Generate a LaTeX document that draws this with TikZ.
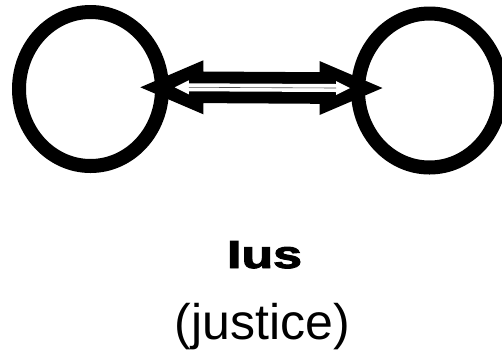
\documentclass[tikz,border=0pt]{standalone}
\usepackage{fontspec}
\setmainfont{Liberation Sans}
\newfontfamily\heavyfont{Liberation Sans Bold}[FakeBold=2.5]
\usetikzlibrary{shapes.geometric,calc}
\tikzset{
  ring/.style={ellipse, draw=black, line width=14pt, inner sep=0pt, outer sep=0pt, minimum width=143pt, minimum height=154pt},
  label/.style={anchor=base, inner sep=0pt}
}
\begin{document}
\begin{tikzpicture}[x=1pt,y=-1pt]
\useasboundingbox (0,0) rectangle (502,349);
\clip (0,0) rectangle (502,349);
\node[ring] (L) at (90.5,89) {};
\node[ring] (R) at (429.5,90.5) {};
\coordinate (a) at ($(L.east)+(-21.7,-1.7)$);
\coordinate (b) at ($(R.west)+(24.5,-2.5)$);
% big double arrow
\fill[black] (a) -- ($(a)+(63,-27)$) -- ($(a)+(63,-15.8)$) -- ($(b)+(-63,-15.8)$)
  -- ($(b)+(-63,-27)$) -- (b) -- ($(b)+(-63,27)$) -- ($(b)+(-63,15.8)$)
  -- ($(a)+(63,15.8)$) -- ($(a)+(63,27)$) -- cycle;
% inner white double arrow
\coordinate (a2) at ($(a)+(34.5,0)$);
\coordinate (b2) at ($(b)+(-32.5,0)$);
\fill[white] (a2) -- ($(a2)+(14,-7)$) -- ($(a2)+(14,-4)$) -- ($(b2)+(-14,-4)$)
  -- ($(b2)+(-14,-7)$) -- (b2) -- ($(b2)+(-14,7)$) -- ($(b2)+(-14,4)$)
  -- ($(a2)+(14,4)$) -- ($(a2)+(14,7)$) -- cycle;
\draw[black!70, line width=0.6pt] ($(a2)+(14,0)$) -- ($(b2)+(-14,0)$);
\node[label, font=\heavyfont\fontsize{39}{39}\selectfont, xscale=1.33] (ius) at (264.5,268) {Ius};
\node[label, font=\fontsize{50}{50}\selectfont] (just) at (262.5,339) {(justice)};
\end{tikzpicture}
\end{document}
